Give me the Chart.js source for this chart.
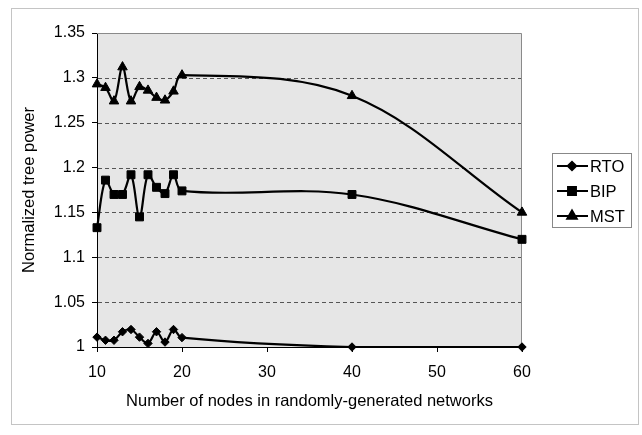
<!DOCTYPE html>
<html><head><meta charset="utf-8">
<script src="https://cdn.jsdelivr.net/npm/chart.js@4"></script>
<style>html,body{margin:0;padding:0;background:#fff;} #wrap{width:642px;height:435px;}</style>
</head><body><div id="wrap"><canvas id="c" width="642" height="435"></canvas></div>
<script>
const nodes = [10,11,12,13,14,15,16,17,18,19,20,40,60];
const rto = [1.011,1.0075,1.0075,1.017,1.0195,1.011,1.004,1.017,1.0055,1.0195,1.0105,1.0,1.0];
const bip = [1.133,1.186,1.170,1.170,1.192,1.145,1.192,1.178,1.171,1.192,1.174,1.170,1.120];
const mst = [1.293,1.289,1.274,1.312,1.274,1.290,1.286,1.278,1.275,1.285,1.303,1.280,1.150];
const seriesNames = ['RTO','BIP','MST'];
const xTicks = [10,20,30,40,50,60];
const yTicks = [1,1.05,1.1,1.15,1.2,1.25,1.3,1.35];
const xTitle = 'Number of nodes in randomly-generated networks';
const yTitle = 'Normalized tree power';

const FONT = 'Liberation Sans, Arial, sans-serif';
function toXY(vals){ return nodes.map((n,i)=>({x:n,y:vals[i]})); }
const styles = [
  {pointStyle:'rectRot', radius:4.2},
  {pointStyle:'rect', radius:5.6},
  {pointStyle:'triangle', radius:5.5}
];
const datasets = [rto,bip,mst].map((v,i)=>({
  label: seriesNames[i],
  data: toXY(v),
  borderColor:'#000', backgroundColor:'#000', borderWidth:2.2,
  pointStyle: styles[i].pointStyle, pointRadius: styles[i].radius,
  pointBackgroundColor:'#000', pointBorderColor:'#000', pointBorderWidth:1,
  tension:0.35, fill:false, clip:false
}));

const deco = {
  id:'deco',
  beforeDraw(chart){
    const {ctx, chartArea:a} = chart;
    ctx.save();
    ctx.fillStyle='#fff'; ctx.fillRect(0,0,chart.width,chart.height);
    ctx.strokeStyle='#c4c4c4'; ctx.lineWidth=1;
    ctx.strokeRect(11.5,8.5,627,416);
    ctx.fillStyle='#e6e6e6';
    ctx.fillRect(a.left,a.top,a.right-a.left,a.bottom-a.top);
    ctx.restore();
  },
  beforeDatasetsDraw(chart){
    const {ctx, chartArea:a, scales} = chart;
    const ys = scales.y;
    ctx.save();
    ctx.strokeStyle='#555'; ctx.lineWidth=1; ctx.setLineDash([4,3]);
    yTicks.forEach(v=>{
      if(v===yTicks[0]||v===yTicks[yTicks.length-1]) return;
      const p = Math.round(ys.getPixelForValue(v))+0.5;
      ctx.beginPath(); ctx.moveTo(a.left+1,p); ctx.lineTo(a.right,p); ctx.stroke();
    });
    ctx.setLineDash([]);
    ctx.strokeStyle='#8a8a8a';
    ctx.beginPath(); ctx.moveTo(a.left,a.top+0.5); ctx.lineTo(a.right-0.5,a.top+0.5); ctx.lineTo(a.right-0.5,a.bottom); ctx.stroke();
    ctx.restore();
  },
  afterDraw(chart){
    const {ctx} = chart;
    ctx.save();
    const bx=552.5, by=153.5, bw=79, bh=74;
    ctx.strokeStyle='#888'; ctx.lineWidth=1; ctx.strokeRect(bx,by,bw,bh);
    ctx.font='16.5px '+FONT; ctx.textBaseline='middle'; ctx.fillStyle='#000';
    chart.data.datasets.forEach((ds,i)=>{
      const y = 166 + i*25;
      ctx.strokeStyle='#000'; ctx.lineWidth=2;
      ctx.beginPath(); ctx.moveTo(557,y); ctx.lineTo(588,y); ctx.stroke();
      ctx.fillStyle='#000'; ctx.strokeStyle='#000';
      Chart.helpers.drawPoint(ctx,{pointStyle:ds.pointStyle,radius:ds.pointRadius,borderWidth:1},572,y);
      ctx.fill();
      ctx.fillText(ds.label,590,y+1);
    });
    ctx.restore();
  }
};

new Chart(document.getElementById('c'),{
  type:'line',
  data:{datasets},
  options:{
    responsive:false, animation:false, devicePixelRatio:1,
    layout:{padding:{left:0,right:120,top:33,bottom:0}},
    plugins:{legend:{display:false}, tooltip:{enabled:false}},
    scales:{
      x:{type:'linear', min:10, max:60,
        afterBuildTicks(s){ s.ticks = xTicks.map(v=>({value:v})); },
        afterFit(s){ s.height=88; },
        ticks:{color:'#000', font:{family:FONT,size:16}, padding:11, maxRotation:0, callback:v=>String(v)},
        grid:{drawOnChartArea:false, drawTicks:true, tickLength:5, tickColor:'#000', color:'#000'},
        border:{display:true, color:'#000', width:1},
        title:{display:true, text:xTitle, color:'#000', font:{family:FONT,size:16.5}, padding:{top:24,bottom:24}}
      },
      y:{type:'linear', min:1, max:1.35,
        afterBuildTicks(s){ s.ticks = yTicks.map(v=>({value:v})); },
        afterFit(s){ s.width=97; },
        ticks:{color:'#000', font:{family:FONT,size:16}, padding:7, callback:v=>String(+v.toFixed(2))},
        grid:{drawOnChartArea:false, drawTicks:true, tickLength:5, tickColor:'#000', color:'#000'},
        border:{display:true, color:'#000', width:1},
        title:{display:true, text:yTitle, color:'#000', font:{family:FONT,size:16.5}, padding:{top:20,bottom:20}}
      }
    }
  },
  plugins:[deco]
});
</script></body></html>
